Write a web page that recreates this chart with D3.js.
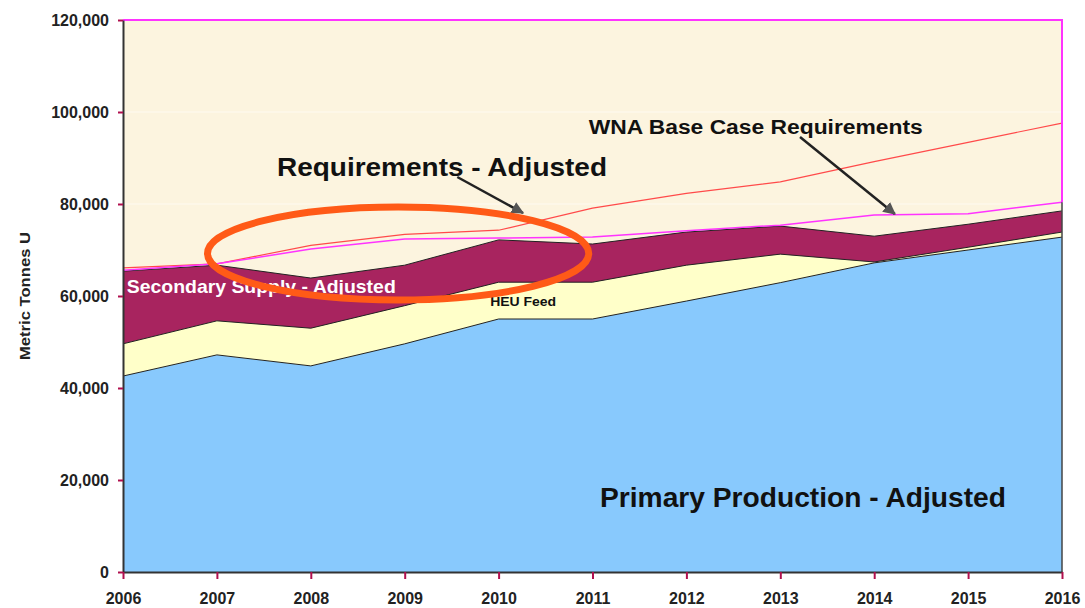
<!DOCTYPE html>
<html>
<head>
<meta charset="utf-8">
<script src="https://cdn.jsdelivr.net/npm/d3@7"></script>
<style>
  body { margin: 0; background: #fff; }
  text { font-family: "Liberation Sans", Arial, sans-serif; font-weight: bold; }
</style>
</head>
<body>
<div id="chart"></div>
<script>
// values (metric tonnes U)
const years = [2006, 2007, 2008, 2009, 2010, 2011, 2012, 2013, 2014, 2015, 2016];
const primary = [42600, 47200, 44800, 49600, 55000, 55000, 58900, 62900, 67200, 70000, 72800];
const heuFeed = [7000, 7400, 8200, 8300, 8000, 8000, 7800, 6200, 200, 600, 1100];
const secondary = [15800, 12100, 10900, 8800, 9200, 8300, 7200, 6100, 5600, 5000, 4600];
const reqAdjusted = [65600, 67000, 70200, 72400, 72600, 72800, 74200, 75400, 77600, 77900, 80400];
const wnaBase = [66100, 67000, 71000, 73400, 74300, 79100, 82300, 84800, 89200, 93400, 97600];
const yTicks = [0, 20000, 40000, 60000, 80000, 100000, 120000];

const margin = { top: 20, right: 23, bottom: 36, left: 123 };
const width = 1085 - margin.left - margin.right;
const height = 608 - margin.top - margin.bottom;

const x = d3.scaleLinear().domain([2006, 2016]).range([0, width]);
const y = d3.scaleLinear().domain([0, 120000]).range([height, 0]);

const table = years.map((yr, i) => ({
  year: yr, primary: primary[i], heu: heuFeed[i], secondary: secondary[i],
}));
const stack = d3.stack().keys(['primary', 'heu', 'secondary'])(table);
const fills = { primary: '#88c9fd', heu: '#ffffc9', secondary: '#a8245f' };

const svg = d3.select('#chart').append('svg')
  .attr('width', 1085)
  .attr('height', 608)
  .append('g')
  .attr('transform', `translate(${margin.left},${margin.top})`);

// plot background
svg.append('rect')
  .attr('width', width)
  .attr('height', height)
  .attr('fill', '#fcf4df');

// faint gridlines
svg.selectAll('.grid')
  .data(yTicks.slice(1, -1))
  .enter().append('line')
  .attr('x1', 0).attr('x2', width)
  .attr('y1', (d) => y(d)).attr('y2', (d) => y(d))
  .attr('stroke', '#fff')
  .attr('stroke-opacity', 0.6);

const area = d3.area()
  .x((d) => x(d.data.year))
  .y0((d) => y(d[0]))
  .y1((d) => y(d[1]));

svg.selectAll('.layer')
  .data(stack)
  .enter().append('path')
  .attr('class', 'layer')
  .attr('d', area)
  .attr('fill', (d) => fills[d.key]);

// thin dark edges on top of each layer
const topLine = d3.line()
  .x((d) => x(d.data.year))
  .y((d) => y(d[1]));
svg.selectAll('.edge')
  .data(stack)
  .enter().append('path')
  .attr('d', topLine)
  .attr('fill', 'none')
  .attr('stroke', '#222')
  .attr('stroke-width', 1);

const line = d3.line()
  .x((d, i) => x(years[i]))
  .y((d) => y(d));

svg.append('path')
  .attr('d', line(wnaBase))
  .attr('fill', 'none')
  .attr('stroke', '#ff4a4a')
  .attr('stroke-width', 1.2);

svg.append('path')
  .attr('d', line(reqAdjusted))
  .attr('fill', 'none')
  .attr('stroke', '#ff33ff')
  .attr('stroke-width', 1.5);

// plot frame top/right
svg.append('path')
  .attr('d', `M0,0H${width}V${y(reqAdjusted[reqAdjusted.length - 1])}`)
  .attr('fill', 'none')
  .attr('stroke', '#ff33ff')
  .attr('stroke-width', 2);
svg.append('line')
  .attr('x1', width).attr('x2', width)
  .attr('y1', y(reqAdjusted[reqAdjusted.length - 1])).attr('y2', height)
  .attr('stroke', '#444')
  .attr('stroke-width', 1.5);

// axes
const yAxis = svg.append('g')
  .call(d3.axisLeft(y).tickValues(yTicks).tickFormat(d3.format(','))
    .tickSize(5).tickSizeOuter(0).tickPadding(9));
const xAxis = svg.append('g')
  .attr('transform', `translate(0,${height})`)
  .call(d3.axisBottom(x).tickValues(years).tickFormat(d3.format('d'))
    .tickSize(7).tickSizeOuter(0).tickPadding(14));
[yAxis, xAxis].forEach((g) => {
  g.select('.domain').attr('stroke', '#333').attr('stroke-width', 2);
  g.selectAll('.tick line').attr('stroke', '#b0104e').attr('stroke-width', 2);
  g.selectAll('.tick text')
    .attr('fill', '#222')
    .style('font-size', '16px');
});

svg.append('text')
  .attr('transform', `translate(${25 - margin.left},${y(60000)}) rotate(-90)`)
  .attr('text-anchor', 'middle')
  .attr('dy', '0.35em')
  .attr('textLength', 128)
  .attr('lengthAdjust', 'spacingAndGlyphs')
  .style('font-size', '15px')
  .attr('fill', '#222')
  .text('Metric Tonnes U');

// annotations, placed in data units
const labels = [
  { text: 'Requirements - Adjusted', year: 2007.64, value: 86090, size: 26, len: 330, color: '#111' },
  { text: 'WNA Base Case Requirements', year: 2010.96, value: 95220, size: 20, len: 334, color: '#111' },
  { text: 'Primary Production - Adjusted', year: 2011.08, value: 14130, size: 27, len: 406, color: '#111' },
  { text: 'Secondary Supply - Adjusted', year: 2006.04, value: 60650, size: 18.5, len: 269, color: '#fff' },
  { text: 'HEU Feed', year: 2009.91, value: 57930, size: 13.5, len: 66, color: '#111' },
];
svg.selectAll('.label')
  .data(labels)
  .enter().append('text')
  .attr('x', (d) => x(d.year))
  .attr('y', (d) => y(d.value))
  .attr('textLength', (d) => d.len)
  .attr('lengthAdjust', 'spacingAndGlyphs')
  .style('font-size', (d) => `${d.size}px`)
  .attr('fill', (d) => d.color)
  .text((d) => d.text);

svg.append('defs').append('marker')
  .attr('id', 'arrow')
  .attr('viewBox', '0 0 10 10')
  .attr('refX', 9).attr('refY', 5)
  .attr('markerWidth', 5).attr('markerHeight', 5)
  .attr('orient', 'auto')
  .append('path')
  .attr('d', 'M0,0L10,5L0,10z')
  .attr('fill', '#555');

const arrows = [
  { from: [2009.56, 85870], to: [2010.26, 78040] },
  { from: [2013.21, 94570], to: [2014.22, 77830] },
];
svg.selectAll('.arrow')
  .data(arrows)
  .enter().append('line')
  .attr('x1', (d) => x(d.from[0])).attr('y1', (d) => y(d.from[1]))
  .attr('x2', (d) => x(d.to[0])).attr('y2', (d) => y(d.to[1]))
  .attr('stroke', '#222')
  .attr('stroke-width', 2.5)
  .attr('marker-end', 'url(#arrow)');

// orange highlight ring
const ring = { year: 2008.93, value: 69240, rYears: 2.03, rValue: 10100 };
svg.append('ellipse')
  .attr('cx', x(ring.year))
  .attr('cy', y(ring.value))
  .attr('rx', x(2006 + ring.rYears) - x(2006))
  .attr('ry', y(0) - y(ring.rValue))
  .attr('fill', 'none')
  .attr('stroke', '#ff5a17')
  .attr('stroke-width', 7);
</script>
</body>
</html>
